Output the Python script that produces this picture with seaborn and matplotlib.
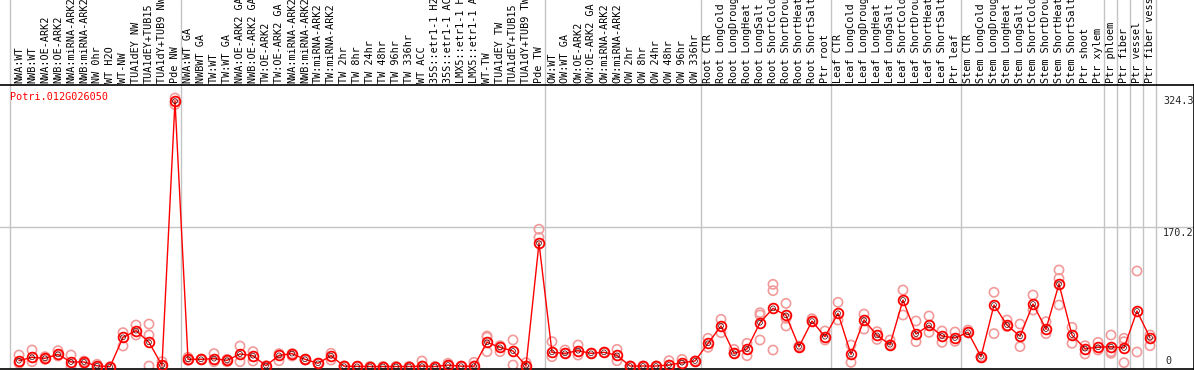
import numpy as np
import pandas as pd
import seaborn as sns
import matplotlib
matplotlib.use("Agg")
import matplotlib.pyplot as plt

labels = [
    "NWA:WT", "NWB:WT", "NWA:OE-ARK2", "NWB:OE-ARK2", "NWA:miRNA-ARK2", "NWB:miRNA-ARK2",
    "NW 0hr", "WT H2O", "WT-NW", "TUA1dEY NW", "TUA1dEY+TUB15", "TUA1dY+TUB9 NW", "Pde NW",
    "NWA:WT GA", "NWBWT GA", "TW:WT", "TW:WT GA", "NWA:OE-ARK2 GA", "NWB:OE-ARK2 GA",
    "TW:OE-ARK2", "TW:OE-ARK2 GA", "NWA:miRNA-ARK2", "NWB:miRNA-ARK2", "TW:miRNA-ARK2",
    "TW:miRNA-ARK2", "TW 2hr", "TW 8hr", "TW 24hr", "TW 48hr", "TW 96hr", "TW 336hr",
    "WT ACC", "35S::etr1-1 H2", "35S::etr1-1 AC", "LMX5::etr1-1 H", "LMX5::etr1-1 A",
    "WT-TW", "TUA1dEY TW", "TUA1dEY+TUB15", "TUA1dY+TUB9 TW", "Pde TW",
    "OW:WT", "OW:WT GA", "OW:OE-ARK2", "OW:OE-ARK2 GA", "OW:miRNA-ARK2", "OW:miRNA-ARK2",
    "OW 2hr", "OW 8hr", "OW 24hr", "OW 48hr", "OW 96hr", "OW 336hr",
    "Root CTR", "Root LongCold", "Root LongDroug", "Root LongHeat", "Root LongSalt",
    "Root ShortCold", "Root ShortDrou", "Root ShortHeat", "Root ShortSalt", "Ptr root",
    "Leaf CTR", "Leaf LongCold", "Leaf LongDroug", "Leaf LongHeat", "Leaf LongSalt",
    "Leaf ShortCold", "Leaf ShortDrou", "Leaf ShortHeat", "Leaf ShortSalt", "Ptr leaf",
    "Stem CTR", "Stem LongCold", "Stem LongDroug", "Stem LongHeat", "Stem LongSalt",
    "Stem ShortCold", "Stem ShortDrou", "Stem ShortHeat", "Stem ShortSalt", "Ptr shoot",
    "Ptr xylem", "Ptr phloem", "Ptr fiber", "Ptr vessel", "Ptr fiber vess",
]

# first index of each block separated by a grey line
group_starts = [0, 13, 41, 53, 63, 73, 84, 85, 86, 87, 88]

mean_vals = [
    7.7, 11.8, 10.6, 15.4, 6.1, 6.1, 1.5, 0.3, 36.2, 44.3, 30.1, 2.0, 324.3,
    9.4, 9.4, 10.2, 8.1, 15.9, 13.8, 1.6, 14.2, 16.3, 9.4, 4.5, 13.8, 1.0, 0.8,
    0.6, 0.6, 0.6, 0.6, 1.0, 0.6, 2.4, 1.0, 1.0, 30.1, 24.0, 19.5, 1.5, 151.0,
    17.9, 16.7, 19.9, 16.7, 17.9, 14.2, 1.2, 1.2, 1.2, 2.4, 5.3, 7.3,
    28.9, 50.0, 16.7, 22.0, 54.0, 71.5, 63.0, 24.8, 56.0, 37.0,
    65.5, 15.4, 57.3, 38.6, 27.2, 81.7, 40.2, 50.8, 37.8, 35.4,
    42.3, 12.6, 75.6, 51.2, 37.4, 76.8, 46.3, 101.2, 39.0, 22.4, 24.0,
    24.8, 23.2, 68.3, 35.7,
]

nan = np.nan
rep_a = [
    14.6, 20.7, 12.6, 19.9, 14.6, 7.3, 3.3, 0.2, 41.9, 51.2, 52.4, 6.5, 320.0,
    11.8, 9.4, 16.3, 9.4, 25.6, 18.7, 1.6, 16.3, 16.3, 9.4, 4.5, 16.7, 1.2, 0.5,
    0.5, 0.5, 0.5, 0.5, 7.3, 0.5, 4.5, 1.0, 5.7, 37.8, 26.0, 33.0, 5.3, 168.0,
    30.9, 20.7, 26.8, 16.7, 17.9, 21.5, 1.2, 1.2, 1.2, 7.7, 9.3, 7.3,
    35.0, 58.1, 21.5, 28.9, 66.2, 100.8, 77.6, 25.6, 58.9, 43.9,
    78.9, 26.8, 64.6, 43.1, 32.9, 93.9, 56.1, 62.2, 43.9, 42.7,
    45.1, 12.6, 91.1, 57.3, 52.4, 87.8, 55.3, 118.3, 48.4, 26.0, 30.1,
    39.0, 35.0, 117.1, 39.0,
]
rep_b = [
    4.5, 6.5, 9.3, 13.4, 1.2, 4.5, 0.4, 0.0, 25.6, 39.0, 39.0, 1.2, 328.0,
    8.0, 9.4, 6.5, 6.5, 6.5, 7.3, 0.8, 7.7, 13.4, 8.5, 4.5, 8.5, 1.2, 0.5,
    0.5, 0.5, 0.5, 0.5, 1.2, 0.5, 2.0, 1.0, 1.2, 36.2, 18.7, 2.4, 1.2, 158.0,
    12.6, 16.7, 14.6, 16.7, 17.9, 7.7, 1.2, 1.2, 1.2, 2.4, 2.4, 7.3,
    24.0, 41.9, 16.7, 13.8, 63.4, 93.1, 59.3, 24.8, 56.0, 32.9,
    57.3, 5.7, 46.3, 33.7, 27.2, 63.4, 30.9, 42.3, 30.1, 31.3,
    42.3, 12.6, 40.7, 49.2, 24.8, 69.5, 40.7, 108.1, 28.9, 15.9, 20.7,
    18.7, 30.9, 18.3, 26.0,
]
rep_c = [nan] * 88
rep_c[10] = 1.2
rep_c[36] = 18.7
rep_c[57] = 32.9
rep_c[58] = 20.7
rep_c[59] = 50.0
rep_c[80] = 75.6
rep_c[84] = 16.7
rep_c[85] = 5.3

y_ticks = [324.3, 170.2, 0]

W, H = 1194, 370
x0_px, dx_px = 19.0, 13.0       # pixel centre of first sample, spacing
head_px = 85                    # header height
zero_px, scale = 367.0, 0.82    # pixel row of value 0, pixels per unit

sns.set_style("white")
plt.rcParams["font.family"] = ["DejaVu Sans Mono", "DejaVu Sans"]

n = len(labels)
idx = np.arange(n)
mean_df = pd.DataFrame({"idx": idx, "value": mean_vals})
rep_df = pd.DataFrame({
    "idx": np.concatenate([idx, idx, idx]),
    "value": np.concatenate([rep_a, rep_b, rep_c]),
}).dropna()

fig = plt.figure(figsize=(W / 100, H / 100), dpi=100)
ax_h = fig.add_axes([0, 1 - head_px / H, 1, head_px / H])
ax = fig.add_axes([0, 1 / H, 1, (H - 1 - head_px) / H])

xlim = ((0 - x0_px) / dx_px, (W - x0_px) / dx_px)
for a in (ax, ax_h):
    a.set_xlim(*xlim)
    a.set_xticks([])
    a.set_yticks([])
    for s in a.spines.values():
        s.set_visible(False)
    a.set_facecolor("white")

ax.set_ylim(-(H - 1 - zero_px) / scale, (zero_px - head_px) / scale)
ax_h.set_ylim(0, head_px)

grid_c = "#c4c4c4"
for g in group_starts:
    gx = g - 0.55 if g > 0 else -0.68
    ax.axvline(gx, color=grid_c, lw=1, zorder=0)
    ax_h.axvline(gx, color=grid_c, lw=1, zorder=0)
ax.axhline(y_ticks[1], color=grid_c, lw=1, zorder=0)

for sp in ("top", "bottom", "right"):
    ax.spines[sp].set_visible(True)
    ax.spines[sp].set_color("black")
    ax.spines[sp].set_linewidth(1.2)

sns.scatterplot(data=rep_df, x="idx", y="value", ax=ax, marker="o", s=44,
                facecolor="none", edgecolor="#f29a9a", linewidth=1.2, zorder=2)
sns.lineplot(data=mean_df, x="idx", y="value", ax=ax, color="red", lw=1,
             marker="o", markersize=7, markerfacecolor="none",
             markeredgecolor="red", markeredgewidth=1.3, zorder=3)
sns.scatterplot(data=mean_df, x="idx", y="value", ax=ax, marker="o", s=12,
                facecolor="none", edgecolor="#400000", linewidth=0.5, zorder=4)
ax.set_xlabel("")
ax.set_ylabel("")

for i, lab in enumerate(labels):
    ax_h.text(i, 2, lab, rotation=90, ha="center", va="bottom",
              fontsize=7.3, color="black")

tx = (1163 - x0_px) / dx_px
ax.text(tx, y_ticks[0], "324.3", ha="left", va="center", fontsize=7.3)
ax.text(tx, y_ticks[1] - 0.8, "170.2", ha="left", va="top", fontsize=7.3)
ax.text(tx + 0.15, 0.8, "0", ha="left", va="bottom", fontsize=7.3)

ax.text((10 - x0_px) / dx_px, (zero_px - 97) / scale, "Potri.012G026050",
        ha="left", va="center", color="red", fontsize=7.3)

fig.savefig("out.png", dpi=100)
